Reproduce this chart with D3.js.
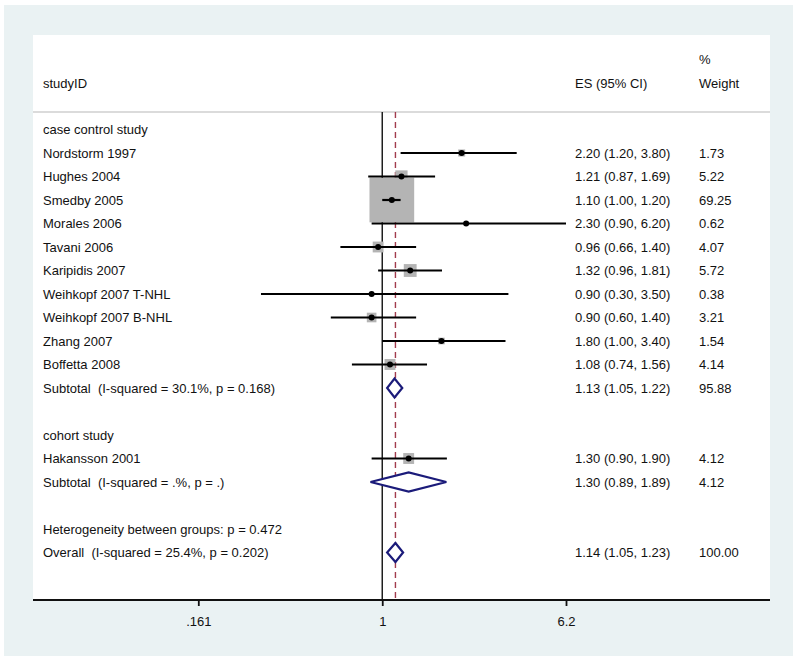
<!DOCTYPE html>
<html>
<head>
<meta charset="utf-8">
<script src="https://cdn.jsdelivr.net/npm/d3@7"></script>
<style>
  html, body { margin: 0; padding: 0; background: #ffffff; }
  svg { display: block; font-family: "Liberation Sans", Arial, sans-serif; }
  svg text { white-space: pre; }
</style>
</head>
<body>
<svg id="chart" width="800" height="668"></svg>
<script>
// ---------------- data ----------------
const rowLabels = [
  "case control study",
  "Nordstorm 1997", "Hughes 2004", "Smedby 2005", "Morales 2006", "Tavani 2006",
  "Karipidis 2007", "Weihkopf 2007 T-NHL", "Weihkopf 2007 B-NHL", "Zhang 2007", "Boffetta 2008",
  "Subtotal  (I-squared = 30.1%, p = 0.168)",
  "",
  "cohort study",
  "Hakansson 2001",
  "Subtotal  (I-squared = .%, p = .)",
  "",
  "Heterogeneity between groups: p = 0.472",
  "Overall  (I-squared = 25.4%, p = 0.202)"
];
// row kind: h = heading, s = study, d = pooled diamond, b = blank
const rowKinds = ["h","s","s","s","s","s","s","s","s","s","s","d","b","h","s","d","b","h","d"];
const esValues = [null, 2.20, 1.21, 1.10, 2.30, 0.96, 1.32, 0.90, 0.90, 1.80, 1.08, 1.13, null, null, 1.30, 1.30, null, null, 1.14];
const ciLower  = [null, 1.20, 0.87, 1.00, 0.90, 0.66, 0.96, 0.30, 0.60, 1.00, 0.74, 1.05, null, null, 0.90, 0.89, null, null, 1.05];
const ciUpper  = [null, 3.80, 1.69, 1.20, 6.20, 1.40, 1.81, 3.50, 1.40, 3.40, 1.56, 1.22, null, null, 1.90, 1.89, null, null, 1.23];
const weights  = [null, 1.73, 5.22, 69.25, 0.62, 4.07, 5.72, 0.38, 3.21, 1.54, 4.14, 95.88, null, null, 4.12, 4.12, null, null, 100.00];
const tickValues = [0.161, 1, 6.2];
const tickLabels = [".161", "1", "6.2"];
const overallES = 1.14;

// ---------------- layout ----------------
const svg = d3.select("#chart");
const panel = { x0: 33, y0: 35, x1: 770, y1: 600 };
const headerLineY = 112;

const rows = rowLabels.map((label, i) => ({
  label, kind: rowKinds[i], es: esValues[i], lo: ciLower[i], hi: ciUpper[i], w: weights[i], i
}));

const x = d3.scaleLog().domain([0.161, 6.2]).range([198.3, 566]);
const y = d3.scaleLinear().domain([0, rowLabels.length - 1]).range([129.5, 552.5]);
const boxSide = d3.scaleSqrt().domain([0, 69.25]).range([0, 44.7]);
const f2 = d3.format(".2f");
const textColor = "#111111";

// outer graph region
svg.append("rect").attr("x", 4).attr("y", 5).attr("width", 789).attr("height", 651)
  .attr("fill", "#eaf2f3");
// plot region
svg.append("rect").attr("x", panel.x0).attr("y", panel.y0)
  .attr("width", panel.x1 - panel.x0).attr("height", panel.y1 - panel.y0)
  .attr("fill", "#ffffff");

// header
const hdr = svg.append("g").attr("fill", textColor).style("font-size", "13px");
hdr.append("text").attr("x", 43).attr("y", 83).attr("dy", "0.35em").text("studyID");
hdr.append("text").attr("x", 575).attr("y", 83).attr("dy", "0.35em").text("ES (95% CI)");
hdr.append("text").attr("x", 699).attr("y", 59).attr("dy", "0.35em").text("%");
hdr.append("text").attr("x", 699).attr("y", 83).attr("dy", "0.35em").text("Weight");

svg.append("line").attr("x1", panel.x0).attr("x2", panel.x1)
  .attr("y1", headerLineY).attr("y2", headerLineY)
  .attr("stroke", "#cfcfcf").attr("stroke-width", 1.6);

// reference lines
svg.append("line").attr("x1", x(1)).attr("x2", x(1))
  .attr("y1", headerLineY).attr("y2", panel.y1)
  .attr("stroke", "#111").attr("stroke-width", 1.4);
svg.append("line").attr("x1", x(overallES)).attr("x2", x(overallES))
  .attr("y1", headerLineY).attr("y2", panel.y1)
  .attr("stroke", "#a23c4e").attr("stroke-width", 1.4).attr("stroke-dasharray", "6,4");

// study rows
const studies = rows.filter(r => r.kind === "s");
svg.append("g").selectAll("rect").data(studies).join("rect")
  .attr("x", d => x(d.es) - boxSide(d.w) / 2)
  .attr("y", d => y(d.i) - boxSide(d.w) / 2)
  .attr("width", d => boxSide(d.w))
  .attr("height", d => boxSide(d.w))
  .attr("fill", "#b4b4b4");
svg.append("g").selectAll("line").data(studies).join("line")
  .attr("x1", d => x(d.lo)).attr("x2", d => x(d.hi))
  .attr("y1", d => y(d.i)).attr("y2", d => y(d.i))
  .attr("stroke", "#000").attr("stroke-width", 2.2);
svg.append("g").selectAll("circle").data(studies).join("circle")
  .attr("cx", d => x(d.es)).attr("cy", d => y(d.i)).attr("r", 3)
  .attr("fill", "#000");

// pooled diamonds
const pooled = rows.filter(r => r.kind === "d");
svg.append("g").selectAll("path").data(pooled).join("path")
  .attr("d", d => {
    const cy = y(d.i), h = 9.5;
    return `M${x(d.lo)},${cy}L${x(d.es)},${cy - h}L${x(d.hi)},${cy}L${x(d.es)},${cy + h}Z`;
  })
  .attr("fill", "#ffffff").attr("stroke", "#1b1b7a").attr("stroke-width", 2.2)
  .attr("stroke-linejoin", "miter");

// text columns
const txt = svg.append("g").attr("fill", textColor).style("font-size", "13px");
txt.selectAll("text.lab").data(rows.filter(r => r.label)).join("text")
  .attr("class", "lab").attr("x", 43).attr("y", d => y(d.i)).attr("dy", "0.35em")
  .text(d => d.label);
const withES = rows.filter(r => r.es != null);
txt.selectAll("text.es").data(withES).join("text")
  .attr("class", "es").attr("x", 575).attr("y", d => y(d.i)).attr("dy", "0.35em")
  .text(d => `${f2(d.es)} (${f2(d.lo)}, ${f2(d.hi)})`);
txt.selectAll("text.wt").data(withES).join("text")
  .attr("class", "wt").attr("x", 699).attr("y", d => y(d.i)).attr("dy", "0.35em")
  .text(d => f2(d.w));

// x axis
svg.append("line").attr("x1", panel.x0).attr("x2", panel.x1)
  .attr("y1", panel.y1).attr("y2", panel.y1)
  .attr("stroke", "#111").attr("stroke-width", 1.8);
const axis = d3.axisBottom(x).tickValues(tickValues)
  .tickFormat((d, i) => tickLabels[i]).tickSize(6).tickPadding(11);
const ax = svg.append("g").attr("transform", `translate(0,${panel.y1})`).call(axis);
ax.select(".domain").remove();
ax.selectAll(".tick line").attr("stroke", "#111").attr("stroke-width", 1.8);
ax.selectAll(".tick text").attr("fill", textColor)
  .style("font-size", "13px").style("font-family", "'Liberation Sans', Arial, sans-serif");
</script>
</body>
</html>
